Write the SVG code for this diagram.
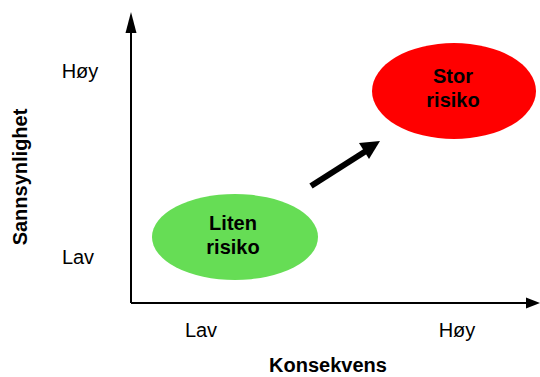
<svg xmlns="http://www.w3.org/2000/svg" width="540" height="377" viewBox="0 0 540 377">
<style>
.lbl{font-family:"Liberation Sans",Arial,sans-serif;font-size:20px;fill:#000;text-anchor:middle}
.b{font-weight:bold}
.ax{stroke:#000;stroke-width:2;fill:none}
</style>
<rect width="540" height="377" fill="#fff"/>
<g id="axes">
<line class="ax" x1="131" y1="303" x2="131" y2="22"/>
<path d="M131,12 L125.5,33 L136.5,33 z" fill="#000"/>
<line class="ax" x1="131" y1="303" x2="530" y2="303"/>
<path d="M540,303 L526,297.5 L526,308.5 z" fill="#000"/>
</g>
<g id="liten">
<ellipse cx="235" cy="237" rx="83" ry="43" fill="#66dd55"/>
<text class="lbl b" x="233" y="230">Liten</text>
<text class="lbl b" x="233" y="254">risiko</text>
</g>
<g id="stor">
<ellipse cx="454" cy="91" rx="82" ry="48" fill="#ff0000"/>
<text class="lbl b" x="453" y="83">Stor</text>
<text class="lbl b" x="453" y="107">risiko</text>
</g>
<g id="connectors">
<line x1="311" y1="186" x2="366" y2="151" stroke="#000" stroke-width="6"/>
<path d="M380,141 L359,143 L369,159 z" fill="#000"/>
</g>
<g id="labels">
<text class="lbl" x="80" y="78">Høy</text>
<text class="lbl" x="78" y="264">Lav</text>
<text class="lbl" x="201" y="337">Lav</text>
<text class="lbl" x="457" y="337">Høy</text>
<text class="lbl b" x="328" y="372">Konsekvens</text>
<text class="lbl b" transform="translate(27,177) rotate(-90)">Sannsynlighet</text>
</g>
</svg>
